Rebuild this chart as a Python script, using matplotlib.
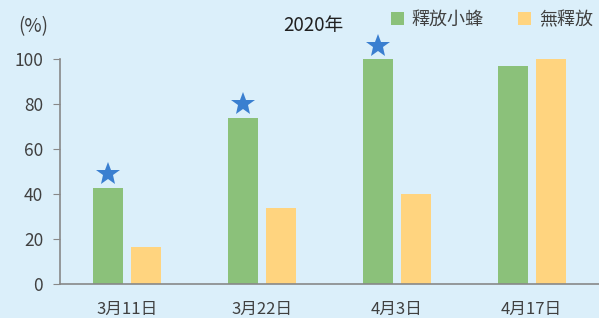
import matplotlib
matplotlib.use("Agg")
import matplotlib.pyplot as plt
import numpy as np

plt.rcParams['font.family'] = ['Noto Sans CJK TC', 'DejaVu Sans']

categories = ["3月11日", "3月22日", "4月3日", "4月17日"]
release = [43, 74, 100, 97]
no_release = [16.5, 34, 40, 100]
significant = [True, True, True, False]
series_names = ["釋放小蜂", "無釋放"]
yticks = [0, 20, 40, 60, 80, 100]

bg = "#dbeffa"
green = "#8bc17a"
yellow = "#ffd47f"
star_col = "#3a7fd0"
txt = "#404040"

fig = plt.figure(figsize=(5.99, 3.18), dpi=100, facecolor=bg)
ax = fig.add_axes([0.1, 0.106, 0.9, 0.7075], facecolor=bg)

x = np.arange(len(categories))
w = 30 / 135
off = 19 / 135
ax.bar(x - off, release, width=w, color=green, label=series_names[0])
ax.bar(x + off, no_release, width=w, color=yellow, label=series_names[1])

for xi, v, s in zip(x, release, significant):
    if s:
        ax.plot(xi - off, v + 6, marker='*', markersize=18, color=star_col,
                markeredgewidth=0, clip_on=False)

ax.set_xlim(-0.5, 3.5)
ax.set_ylim(0, 100)
ax.set_yticks(yticks)
ax.set_xticks(x)
ax.set_xticklabels(categories, fontsize=12, color=txt)
ax.tick_params(axis='x', length=0, pad=12)
ax.tick_params(axis='y', length=5, color="#888888", labelsize=12.5, labelcolor=txt, pad=7)
for sp in ['top', 'right']:
    ax.spines[sp].set_visible(False)
for sp in ['left', 'bottom']:
    ax.spines[sp].set_color("#888888")
    ax.spines[sp].set_linewidth(1.2)

fig.text(18 / 599, 1 - 27 / 318, "(%)", fontsize=13.5, color=txt, va='center', ha='left')
fig.text(283 / 599, 1 - 25 / 318, "2020年", fontsize=13.5, color="#202020", va='center', ha='left')

leg = ax.legend(loc='center left', bbox_to_anchor=(391 / 599, 1 - 20 / 318),
                bbox_transform=fig.transFigure, ncol=2, frameon=False, fontsize=13,
                handlelength=0.7, handleheight=0.7, handletextpad=0.45, columnspacing=1.9,
                borderpad=0, borderaxespad=0, labelcolor=txt)
fig.savefig("out.png", dpi=100, facecolor=bg)
